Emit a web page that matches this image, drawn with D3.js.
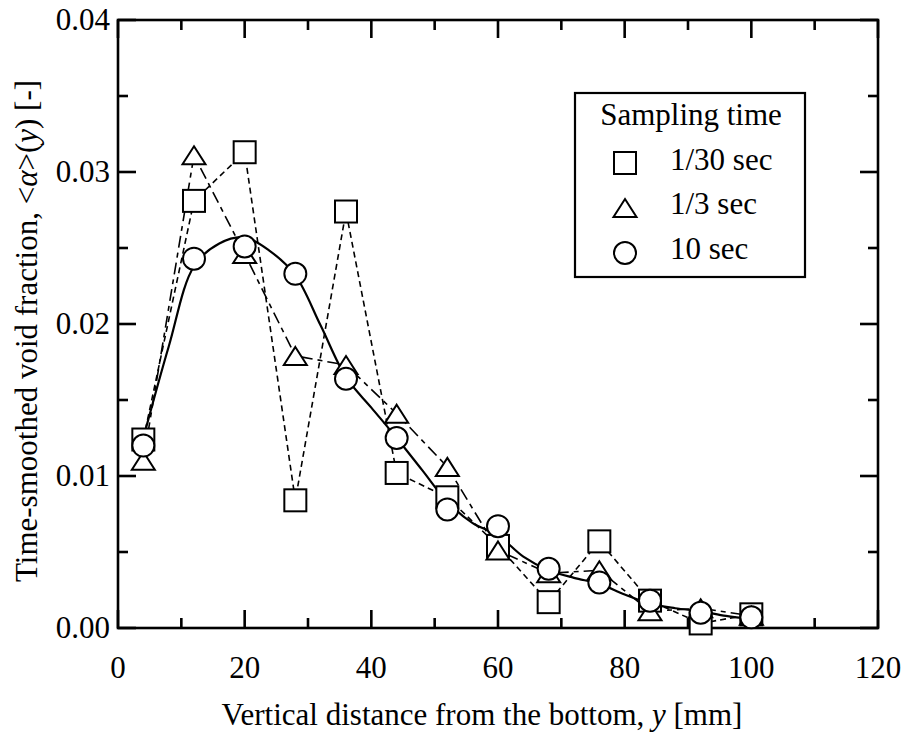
<!DOCTYPE html>
<html>
<head>
<meta charset="utf-8">
<script src="https://cdn.jsdelivr.net/npm/d3@7"></script>
<style>
  svg text, svg tspan { font-family: "Liberation Serif", Tinos, "Times New Roman", serif !important; }
</style>
</head>
<body style="margin:0">
<svg id="chart" width="907" height="735" font-family="'Liberation Serif', serif"></svg>
<script>
// ---- data ----
const positions = [4, 12, 20, 28, 36, 44, 52, 60, 68, 76, 84, 92, 100];
const sample30 = [0.0124, 0.0281, 0.0313, 0.0084, 0.0274, 0.0102, 0.0086, 0.0054, 0.0017, 0.0057, 0.0018, 0.0003, 0.0009];
const sample3  = [0.0110, 0.0311, 0.0246, 0.0179, 0.0173, 0.0141, 0.0106, 0.0051, 0.0036, 0.0038, 0.0011, 0.0013, 0.0008];
const sample10 = [0.0120, 0.0243, 0.0251, 0.0233, 0.0164, 0.0125, 0.0078, 0.0067, 0.0039, 0.0030, 0.0018, 0.0010, 0.0007];
// smooth fitted curve for the 10 sec series
const fitX = [4, 8, 12, 16, 20, 24, 28, 32, 36, 40, 44, 48, 52, 56, 60, 64, 68, 72, 76, 80, 84, 88, 92, 96, 100];
const fitY = [0.0125, 0.0185, 0.0238, 0.0253, 0.0257, 0.0248, 0.0232, 0.0199, 0.0165, 0.0145, 0.0125, 0.0104, 0.0083, 0.0069, 0.0061, 0.0047, 0.0038, 0.0033, 0.0029, 0.0022, 0.0016, 0.0013, 0.0011, 0.0008, 0.0006];
const xTicks = [0, 20, 40, 60, 80, 100, 120];
const xMinorTicks = [10, 30, 50, 70, 90, 110];
const yTicks = [0, 0.01, 0.02, 0.03, 0.04];
const yMinorTicks = [0.005, 0.015, 0.025, 0.035];
const legendTitle = "Sampling time";
const seriesNames = ["1/30 sec", "1/3 sec", "10 sec"];
const xTitle = "Vertical distance from the bottom, ";
const yTitle = "Time-smoothed void fraction, ";

// ---- layout ----
const FONT = '"Liberation Serif", serif';
const svg = d3.select("#chart");
const L = 118, R = 878, T = 20, B = 628;
const x = d3.scaleLinear().domain([0, 120]).range([L, R]);
const y = d3.scaleLinear().domain([0, 0.04]).range([B, T]);
const FS = 31;
const majorLen = 18, minorLen = 10, axisW = 2.6;

function addText(parent, px, py, str, anchor) {
  return parent.append("text").attr("x", px).attr("y", py)
    .attr("font-size", FS).attr("font-family", FONT)
    .style("font-family", FONT)
    .attr("text-anchor", anchor || "start").text(str);
}

function ticks(g, vals, len, orient) {
  g.selectAll("line").data(vals).join("line")
    .attr("stroke", "#000").attr("stroke-width", axisW)
    .attr("x1", d => orient === "h" ? x(d) : 0).attr("x2", d => orient === "h" ? x(d) : len)
    .attr("y1", d => orient === "h" ? 0 : y(d)).attr("y2", d => orient === "h" ? len : y(d));
}

// ticks (inward) on all four sides, driven by the scales
const gB = svg.append("g").attr("transform", `translate(0,${B})`);
ticks(gB.append("g"), xTicks, -majorLen, "h"); ticks(gB.append("g"), xMinorTicks, -minorLen, "h");
const gT = svg.append("g").attr("transform", `translate(0,${T})`);
ticks(gT.append("g"), xTicks, majorLen, "h"); ticks(gT.append("g"), xMinorTicks, minorLen, "h");
const gL = svg.append("g").attr("transform", `translate(${L},0)`);
ticks(gL.append("g"), yTicks, majorLen, "v"); ticks(gL.append("g"), yMinorTicks, minorLen, "v");
const gR = svg.append("g").attr("transform", `translate(${R},0)`);
ticks(gR.append("g"), yTicks, -majorLen, "v"); ticks(gR.append("g"), yMinorTicks, -minorLen, "v");

// tick labels
const fx = d3.format("d"), fy = d3.format(".2f");
xTicks.forEach(v => addText(svg, x(v), B + 50, fx(v), "middle"));
yTicks.forEach(v => addText(svg, L - 8, y(v) + 10, fy(v), "end"));

// frame
svg.append("rect").attr("x", L).attr("y", T).attr("width", R - L).attr("height", B - T)
  .attr("fill", "none").attr("stroke", "#000").attr("stroke-width", axisW);

// axis titles
const xt = addText(svg, 482, 725, null, "middle");
xt.append("tspan").text(xTitle);
xt.append("tspan").attr("font-style", "italic").text("y");
xt.append("tspan").text(" [mm]");

const yt = addText(svg, 0, 0, null, "middle").attr("transform", "translate(37,331) rotate(-90)");
yt.append("tspan").text(yTitle + "<");
yt.append("tspan").attr("font-style", "italic").text("\u03b1");
yt.append("tspan").text(">(");
yt.append("tspan").attr("font-style", "italic").text("y");
yt.append("tspan").text(") [-]");

// ---- series ----
const pts = (vals) => positions.map((p, i) => [p, vals[i]]);
const lineGen = d3.line().x(d => x(d[0])).y(d => y(d[1]));

svg.append("path").datum(pts(sample30)).attr("d", lineGen)
  .attr("fill", "none").attr("stroke", "#000").attr("stroke-width", 1.6).attr("stroke-dasharray", "6,4");
svg.append("path").datum(pts(sample3)).attr("d", lineGen)
  .attr("fill", "none").attr("stroke", "#000").attr("stroke-width", 1.6).attr("stroke-dasharray", "12,5,5,5");
svg.append("path").datum(fitX.map((v, i) => [v, fitY[i]]))
  .attr("d", d3.line().x(d => x(d[0])).y(d => y(d[1])).curve(d3.curveCatmullRom.alpha(0.5)))
  .attr("fill", "none").attr("stroke", "#000").attr("stroke-width", 2.2);

// marker shapes
const SQ = 22, TW = 23, TH = 18, CR = 11;
function square(g) { g.append("rect").attr("x", -SQ/2).attr("y", -SQ/2).attr("width", SQ).attr("height", SQ); }
function triangle(g) { g.append("path").attr("d", `M0,${-TH/2}L${TW/2},${TH/2}L${-TW/2},${TH/2}Z`); }
function circle(g) { g.append("circle").attr("r", CR); }
const markerStyle = g => g.attr("fill", "#fff").attr("stroke", "#000").attr("stroke-width", 2);

function drawMarkers(vals, shape) {
  const g = svg.append("g").call(markerStyle);
  g.selectAll("g").data(pts(vals)).join("g")
    .attr("transform", d => `translate(${x(d[0])},${y(d[1])})`)
    .each(function () { shape(d3.select(this)); });
}
drawMarkers(sample30, square);
drawMarkers(sample3, triangle);
drawMarkers(sample10, circle);

// ---- legend ----
const lg = svg.append("g");
lg.append("rect").attr("x", 575).attr("y", 93).attr("width", 230).attr("height", 184)
  .attr("fill", "#fff").attr("stroke", "#000").attr("stroke-width", 2.2);
addText(lg, 691, 125, legendTitle, "middle");
const shapes = [square, triangle, circle];
const rowY = [163, 208, 253];
const textY = [170, 214, 259];
seriesNames.forEach((name, i) => {
  const m = lg.append("g").attr("transform", `translate(625,${rowY[i]})`).call(markerStyle);
  shapes[i](m);
  addText(lg, 670, textY[i], name);
});
</script>
</body>
</html>
